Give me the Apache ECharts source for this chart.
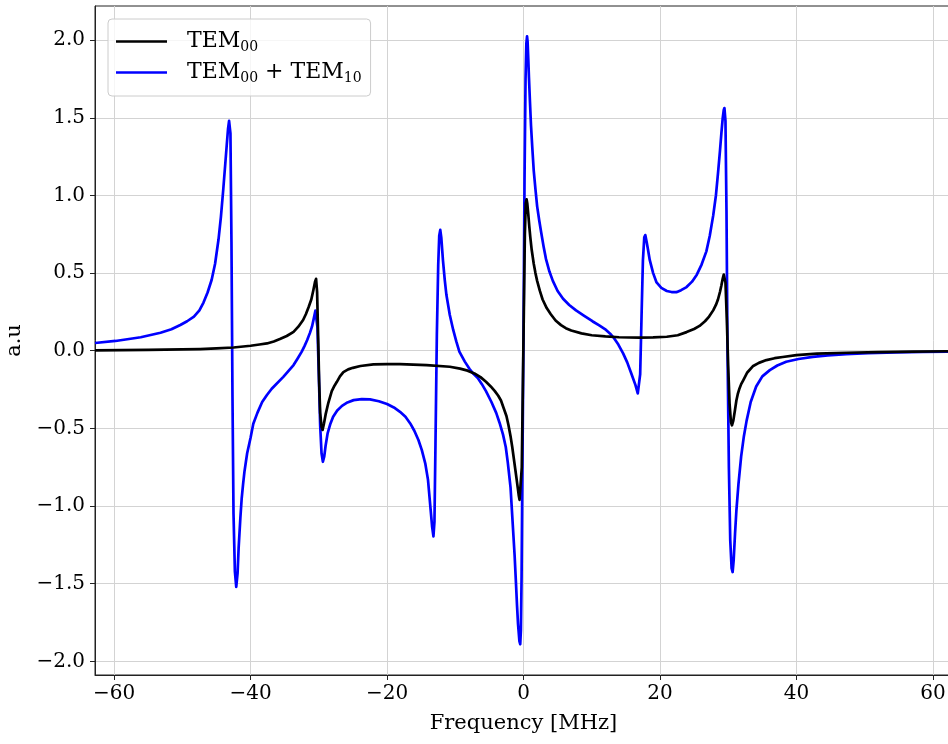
<!DOCTYPE html>
<html>
<head>
<meta charset="utf-8">
<script src="https://cdn.jsdelivr.net/npm/echarts@6/dist/echarts.min.js"></script>
<style>
  html, body { margin: 0; padding: 0; background: #fff; }
  #chart { width: 948px; height: 744px; }
</style>
</head>
<body>
<div id="chart"></div>
<script>
// TEM00 (black)
var freqBlack = [-62.8, -55, -50, -47.4, -45, -42.5, -40.0, -38.7, -37.6, -36.6, -35.7, -34.7, -33.7, -33.0, -32.3, -31.9, -31.5, -31.1, -30.8, -30.55, -30.4, -30.25, -30.1, -29.95, -29.8, -29.6, -29.45, -29.25, -29.0, -28.6, -28.1, -27.7, -27.35, -26.9, -26.4, -25.7, -25.0, -23.9, -22.0, -20.0, -18.1, -14.2, -10.8, -9.3, -8.2, -7.2, -6.3, -5.5, -4.8, -4.2, -3.7, -3.3, -2.9, -2.5, -2.2, -1.9, -1.65, -1.4, -1.2, -1.0, -0.85, -0.7, -0.58, -0.48, -0.38, -0.25, -0.1, 0.05, 0.2, 0.33, 0.45, 0.55, 0.7, 0.85, 1.0, 1.2, 1.5, 1.75, 2.0, 2.4, 2.8, 3.4, 4.0, 4.7, 5.5, 6.2, 7.0, 8.5, 10.0, 12.0, 14.0, 17.0, 19.0, 21.0, 22.6, 23.9, 25.0, 25.8, 26.6, 27.2, 27.8, 28.2, 28.5, 28.8, 29.0, 29.2, 29.35, 29.45, 29.6, 29.8, 30.0, 30.2, 30.4, 30.55, 30.75, 31.0, 31.2, 31.4, 31.6, 31.9, 32.2, 32.8, 33.6, 34.5, 35.6, 36.8, 38.0, 40.0, 43.0, 47.3, 52.0, 57.0, 62.8];
var ampBlack = [0.003, 0.006, 0.009, 0.011, 0.015, 0.021, 0.032, 0.040, 0.047, 0.060, 0.075, 0.095, 0.122, 0.155, 0.198, 0.235, 0.28, 0.33, 0.39, 0.445, 0.463, 0.38, 0.10, -0.20, -0.40, -0.49, -0.51, -0.47, -0.41, -0.335, -0.26, -0.225, -0.20, -0.165, -0.138, -0.12, -0.11, -0.098, -0.088, -0.086, -0.086, -0.092, -0.103, -0.115, -0.128, -0.146, -0.17, -0.20, -0.23, -0.26, -0.29, -0.32, -0.37, -0.42, -0.48, -0.55, -0.62, -0.70, -0.765, -0.83, -0.88, -0.93, -0.96, -0.97, -0.955, -0.75, -0.25, 0.25, 0.75, 0.95, 0.975, 0.95, 0.88, 0.80, 0.73, 0.65, 0.56, 0.50, 0.45, 0.385, 0.33, 0.275, 0.235, 0.195, 0.165, 0.145, 0.13, 0.112, 0.10, 0.092, 0.087, 0.084, 0.086, 0.09, 0.10, 0.12, 0.14, 0.16, 0.19, 0.22, 0.26, 0.295, 0.33, 0.38, 0.42, 0.465, 0.49, 0.50, 0.44, 0.20, -0.10, -0.34, -0.46, -0.48, -0.45, -0.38, -0.32, -0.28, -0.25, -0.215, -0.19, -0.14, -0.10, -0.078, -0.06, -0.048, -0.04, -0.028, -0.019, -0.013, -0.009, -0.006, -0.003];

// TEM00 + TEM10 (blue)
var freqBlue = [-62.8, -59.8, -56.1, -53.2, -51.6, -50.3, -49.3, -48.3, -47.5, -46.9, -46.3, -45.7, -45.2, -44.7, -44.35, -44.0, -43.75, -43.5, -43.3, -43.15, -43.05, -42.95, -42.8, -42.65, -42.5, -42.3, -42.1, -41.9, -41.75, -41.5, -41.3, -41.1, -40.9, -40.7, -40.5, -40.0, -39.6, -39.0, -38.3, -37.6, -36.9, -35.2, -33.7, -33.1, -32.5, -32.1, -31.7, -31.3, -31.0, -30.7, -30.5, -30.35, -30.2, -30.0, -29.8, -29.6, -29.4, -29.2, -29.0, -28.7, -28.3, -27.9, -27.3, -26.6, -25.8, -24.9, -23.7, -22.5, -21.2, -20.0, -19.0, -18.1, -17.3, -16.6, -16.0, -15.4, -14.9, -14.4, -14.0, -13.7, -13.4, -13.2, -13.05, -12.9, -12.7, -12.5, -12.35, -12.2, -12.05, -11.9, -11.8, -11.55, -11.3, -10.8, -10.3, -9.85, -9.4, -8.6, -7.9, -7.3, -6.7, -6.1, -5.5, -4.7, -4.0, -3.5, -3.0, -2.6, -2.3, -1.9, -1.6, -1.3, -1.1, -0.95, -0.8, -0.6, -0.48, -0.38, -0.28, -0.15, 0.0, 0.15, 0.3, 0.42, 0.52, 0.6, 0.7, 0.8, 0.95, 1.1, 1.3, 1.5, 1.75, 2.0, 2.3, 2.6, 2.95, 3.3, 3.8, 4.3, 5.0, 5.8, 6.7, 7.7, 8.9, 10.1, 11.1, 12.1, 12.7, 13.2, 13.9, 14.6, 15.2, 15.8, 16.4, 16.75, 16.95, 17.1, 17.3, 17.5, 17.7, 17.85, 18.05, 18.25, 18.5, 19.0, 19.5, 20.2, 21.0, 21.7, 22.4, 23.1, 23.9, 24.7, 25.4, 26.1, 26.8, 27.3, 27.8, 28.2, 28.5, 28.8, 29.0, 29.2, 29.35, 29.45, 29.6, 29.75, 29.9, 30.1, 30.3, 30.5, 30.65, 30.8, 31.0, 31.2, 31.5, 31.9, 32.3, 32.7, 33.3, 34.1, 35.0, 36.1, 37.2, 38.5, 40.3, 42.4, 44.6, 47.3, 50.5, 54.6, 58.5, 62.8];
var ampBlue = [0.050, 0.063, 0.087, 0.116, 0.138, 0.166, 0.19, 0.22, 0.26, 0.31, 0.375, 0.457, 0.56, 0.716, 0.86, 1.04, 1.18, 1.32, 1.43, 1.48, 1.49, 1.40, 0.70, -0.30, -1.05, -1.42, -1.52, -1.43, -1.27, -1.08, -0.95, -0.86, -0.78, -0.72, -0.66, -0.56, -0.47, -0.40, -0.33, -0.285, -0.245, -0.168, -0.092, -0.05, -0.006, 0.03, 0.069, 0.115, 0.155, 0.215, 0.258, 0.262, 0.15, -0.15, -0.48, -0.66, -0.715, -0.68, -0.61, -0.53, -0.47, -0.425, -0.385, -0.355, -0.333, -0.318, -0.311, -0.313, -0.325, -0.343, -0.365, -0.393, -0.425, -0.468, -0.515, -0.575, -0.64, -0.725, -0.83, -0.98, -1.13, -1.195, -1.10, -0.60, 0.10, 0.55, 0.74, 0.778, 0.73, 0.64, 0.58, 0.46, 0.36, 0.23, 0.134, 0.06, -0.006, -0.07, -0.118, -0.15, -0.175, -0.215, -0.26, -0.33, -0.40, -0.465, -0.54, -0.62, -0.72, -0.88, -1.10, -1.32, -1.50, -1.64, -1.76, -1.87, -1.89, -1.80, -1.45, -0.70, 0.1, 1.1, 1.75, 1.98, 2.025, 1.99, 1.88, 1.76, 1.60, 1.45, 1.30, 1.16, 1.04, 0.93, 0.84, 0.76, 0.67, 0.59, 0.51, 0.45, 0.385, 0.335, 0.295, 0.26, 0.225, 0.19, 0.163, 0.134, 0.11, 0.085, 0.04, -0.017, -0.075, -0.146, -0.22, -0.275, -0.285, -0.15, 0.22, 0.58, 0.73, 0.745, 0.70, 0.65, 0.585, 0.50, 0.44, 0.405, 0.385, 0.378, 0.377, 0.39, 0.41, 0.445, 0.49, 0.555, 0.64, 0.74, 0.87, 1.00, 1.14, 1.29, 1.40, 1.50, 1.55, 1.563, 1.48, 0.90, 0.0, -0.75, -1.22, -1.40, -1.425, -1.35, -1.18, -1.03, -0.86, -0.68, -0.55, -0.45, -0.33, -0.23, -0.165, -0.125, -0.095, -0.071, -0.053, -0.039, -0.030, -0.022, -0.016, -0.011, -0.008, -0.006];

var xTicks = [-60, -40, -20, 0, 20, 40, 60];
var yTicks = [-2.0, -1.5, -1.0, -0.5, 0.0, 0.5, 1.0, 1.5, 2.0];

var font = 'DejaVu Serif';

function pairs(xs, ys) {
  return xs.map(function (x, i) { return [x, ys[i]] })
}
function minus(s) {
  return String(s).replace('-', '\u2212')
}

var chart = echarts.init(document.getElementById('chart'))
chart.setOption({
  animation: false,
  backgroundColor: '#fff',
  grid: {
    left: 95,
    right: -4,
    top: 6,
    bottom: 69,
    show: true,
    borderColor: '#222',
    borderWidth: 1,
    containLabel: false,
    outerBoundsMode: 'none'
  },
  legend: {
    orient: 'vertical',
    left: 108,
    top: 19,
    padding: [10, 9, 11, 8],
    icon: 'rect',
    itemWidth: 51,
    itemHeight: 2.7,
    itemGap: 6,
    backgroundColor: 'rgba(255,255,255,0.8)',
    borderColor: '#cccccc',
    borderWidth: 1,
    borderRadius: 4,
    data: ['TEM00', 'TEM00 + TEM10'],
    formatter: function (name) {
      return name.replace(/TEM(\d\d)/g, 'TEM{s|$1}')
    },
    textStyle: {
      fontFamily: font,
      fontSize: 22,
      lineHeight: 25,
      color: '#000',
      padding: [0, 0, 0, 15],
      rich: {
        s: { fontFamily: font, fontSize: 14, lineHeight: 16, color: '#000', verticalAlign: 'bottom' }
      }
    }
  },
  xAxis: {
    type: 'value',
    min: -62.8,
    max: 62.8,
    name: 'Frequency [MHz]',
    nameLocation: 'middle',
    nameGap: 38,
    nameTextStyle: { fontFamily: font, fontSize: 21, color: '#000' },
    axisLine: { onZero: false, lineStyle: { color: '#222', width: 1 } },
    axisTick: { show: true, inside: false, length: 5, customValues: xTicks, lineStyle: { color: '#222' } },
    axisLabel: {
      customValues: xTicks,
      margin: 9,
      fontFamily: font,
      fontSize: 20,
      color: '#000',
      formatter: function (v) { return minus(v) }
    },
    splitLine: { show: true, lineStyle: { color: '#d3d3d3', width: 1 } }
  },
  yAxis: {
    type: 'value',
    min: -2.088,
    max: 2.22,
    name: 'a.u',
    nameLocation: 'middle',
    nameGap: 68,
    nameTextStyle: { fontFamily: font, fontSize: 21, color: '#000' },
    axisLine: { onZero: false, lineStyle: { color: '#222', width: 1 } },
    axisTick: { show: true, inside: false, length: 5, customValues: yTicks, lineStyle: { color: '#222' } },
    axisLabel: {
      customValues: yTicks,
      margin: 10,
      fontFamily: font,
      fontSize: 20,
      color: '#000',
      formatter: function (v) { return minus(v.toFixed(1)) }
    },
    splitLine: { show: true, lineStyle: { color: '#d3d3d3', width: 1 } }
  },
  series: [
    {
      name: 'TEM00 + TEM10',
      type: 'line',
      symbol: 'none',
      lineStyle: { color: '#0000ff', width: 2.7, join: 'round' },
      itemStyle: { color: '#0000ff' },
      data: pairs(freqBlue, ampBlue)
    },
    {
      name: 'TEM00',
      type: 'line',
      symbol: 'none',
      lineStyle: { color: '#000000', width: 2.7, join: 'round' },
      itemStyle: { color: '#000000' },
      data: pairs(freqBlack, ampBlack)
    }
  ]
})
</script>
</body>
</html>
